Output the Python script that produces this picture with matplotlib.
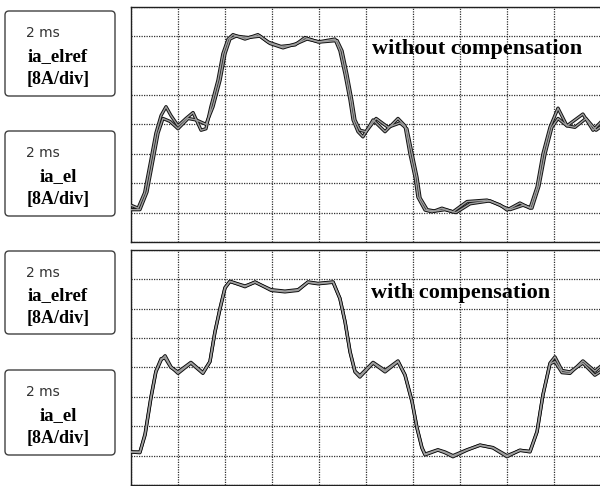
import matplotlib
matplotlib.use("Agg")
import matplotlib.pyplot as plt
from matplotlib.patches import FancyBboxPatch

# time in ms (2 ms/div), current in A (8 A/div)
t_top_el = [0.00, 0.30, 0.58, 0.85, 1.06, 1.28, 1.49, 1.70, 2.00, 2.34,
            2.64, 2.98, 3.19, 3.40, 3.70, 3.91, 4.13, 4.34, 4.85, 5.40,
            5.83, 6.38, 6.98, 7.40, 7.96, 8.68, 8.89, 9.11, 9.32, 9.45,
            9.66, 9.87, 10.30, 10.81, 11.36, 11.66, 11.87, 12.09, 12.21, 12.51,
            12.81, 13.23, 13.70, 14.30, 15.15, 15.70, 16.00, 16.55, 16.98, 17.28,
            17.53, 17.83, 18.17, 18.55, 19.23, 19.66, 19.96]
i_top_el = [-22.0, -22.8, -18.6, -9.6, -2.4, 2.4, 4.8, 2.4, -0.4, 1.6,
            3.2, -1.6, -1.2, 4.8, 12.0, 19.2, 23.2, 24.4, 23.2, 24.4,
            22.4, 21.2, 21.6, 23.6, 22.4, 23.2, 20.0, 13.6, 6.6, 1.2,
            -2.0, -3.4, 1.2, -2.0, 1.6, -0.4, -8.0, -14.4, -19.8, -23.3,
            -23.8, -22.8, -23.8, -21.0, -20.6, -21.9, -23.3, -21.4, -22.8, -17.0,
            -8.0, -0.8, 4.4, -0.4, 2.8, -1.6, 0.4]

t_top_ref = [0.00, 0.38, 0.68, 0.94, 1.15, 1.36, 1.66, 2.00, 2.43, 2.77,
             3.19, 3.49, 3.79, 4.00, 4.21, 4.47, 4.98, 5.49, 5.91, 6.47,
             7.06, 7.49, 8.04, 8.77, 8.98, 9.19, 9.40, 9.53, 9.74, 10.00,
             10.43, 10.94, 11.45, 11.74, 11.96, 12.17, 12.30, 12.60, 12.94, 13.36,
             13.83, 14.43, 15.28, 15.83, 16.13, 16.68, 17.06, 17.36, 17.62, 17.91,
             18.17, 18.55, 18.89, 19.36, 19.79, 19.96]
i_top_ref = [-23.2, -23.2, -18.4, -9.6, -2.4, 1.6, 0.8, -1.2, 1.6, 1.2,
             0.0, 4.8, 12.0, 19.2, 23.2, 24.0, 23.6, 24.0, 22.0, 20.8,
             22.0, 23.2, 22.4, 22.8, 20.0, 13.6, 6.4, 1.2, -1.6, -2.0,
             1.6, -0.8, 0.4, -1.2, -8.0, -14.4, -20.0, -23.2, -23.6, -23.2,
             -24.0, -21.6, -20.8, -22.4, -23.2, -22.0, -22.8, -16.8, -8.0, -0.8,
             1.6, -0.4, -0.8, 1.6, -1.6, -0.8]

t_bot = [0.00, 0.38, 0.60, 0.85, 1.06, 1.28, 1.45, 1.70, 2.00, 2.55,
         3.06, 3.36, 3.57, 3.79, 4.00, 4.21, 4.85, 5.28, 5.96, 6.55,
         7.11, 7.53, 7.96, 8.60, 8.89, 9.11, 9.32, 9.53, 9.74, 10.30,
         10.81, 11.36, 11.66, 11.96, 12.17, 12.38, 12.51, 13.06, 13.36, 13.70,
         14.30, 14.85, 15.40, 16.00, 16.55, 16.98, 17.28, 17.53, 17.83, 18.04,
         18.34, 18.68, 19.23, 19.74, 19.96]
i_bot_el = [-23.0, -23.0, -18.4, -8.3, -1.2, 2.0, 3.2, 0.2, -1.6, 1.2,
            -1.6, 1.6, 9.6, 16.0, 21.6, 23.5, 22.0, 23.3, 21.0, 20.6,
            21.0, 23.3, 22.9, 23.3, 18.8, 12.4, 4.2, -1.2, -2.6, 1.2,
            -1.2, 1.6, -2.1, -9.4, -16.5, -21.9, -23.8, -22.5, -23.2, -24.3,
            -22.5, -21.1, -21.9, -24.3, -22.5, -23.0, -17.5, -7.5, 1.2, 2.9,
            -0.8, -1.2, 1.2, -2.1, -1.2]
i_bot_ref = [-23.0, -23.2, -18.0, -8.0, -1.0, 2.4, 2.6, 0.0, -1.2, 1.4,
             -1.4, 1.6, 9.6, 16.2, 21.8, 23.4, 22.2, 23.2, 21.2, 20.8,
             21.2, 23.2, 22.8, 23.2, 18.8, 12.4, 4.4, -1.0, -2.2, 1.4,
             -0.8, 1.8, -2.0, -9.2, -16.4, -21.8, -23.6, -22.4, -23.0, -24.0,
             -22.4, -21.2, -21.8, -24.0, -22.6, -22.8, -17.4, -7.4, 1.0, 1.6,
             -1.4, -1.6, 1.8, -1.0, 0.2]

titles = ["without compensation", "with compensation"]
box_labels = [["2 ms", "ia_elref", "[8A/div]"], ["2 ms", "ia_el", "[8A/div]"]]

fig = plt.figure(figsize=(6, 4.86), dpi=100)
W, H = 600, 486


def add_scope(top_px, bottom_px, traces, title, title_x):
    ax = fig.add_axes([131 / W, 1 - bottom_px / H, 470 / W, (bottom_px - top_px) / H])
    for t, i in traces:
        ax.plot(t, i, color="#111111", lw=2.4, zorder=3)
    for t, i in traces:
        ax.plot(t, i, color="#a0a0a0", lw=1.0, zorder=4)
    ax.set_xlim(0, 20)
    ax.set_ylim(-32, 32)
    ax.set_xticks(range(0, 21, 2))
    ax.set_yticks(range(-32, 33, 8))
    ax.grid(True, color="#303030", lw=0.9, ls=(0, (1, 1)))
    ax.tick_params(length=0, labelbottom=False, labelleft=False)
    for s in ax.spines.values():
        s.set_color("#202020")
        s.set_linewidth(1.0)
    ax.text(title_x, 20.4, title, family="Liberation Serif", weight="bold",
            fontsize=16, ha="left", va="center", zorder=5)
    return ax


add_scope(6.7, 242, [(t_top_ref, i_top_ref), (t_top_el, i_top_el)], titles[0], 10.25)
add_scope(250, 485, [(t_bot, i_bot_ref), (t_bot, i_bot_el)], titles[1], 10.2)

# label boxes in pixel coordinates
ov = fig.add_axes([0, 0, 1, 1])
ov.set_xlim(0, W)
ov.set_ylim(H, 0)
ov.axis("off")
ov.patch.set_alpha(0)

boxes = [(10, 97, 0), (130, 217, 1), (250, 335, 0), (369, 456, 1)]
for y0, y1, k in boxes:
    ov.add_patch(FancyBboxPatch((5, y0 + 1), 110, y1 - y0 - 2,
                                boxstyle="round,pad=0,rounding_size=4",
                                fc="white", ec="#404040", lw=1.0))
    h = y1 - y0
    lab = box_labels[k]
    ov.text(26, y0 + 0.27 * h, lab[0], fontsize=10, family="DejaVu Sans",
            color="#333333", ha="left", va="center")
    ov.text(58, y0 + 0.54 * h, lab[1], fontsize=13.5, family="Liberation Serif",
            weight="bold", ha="center", va="center")
    ov.text(58, y0 + 0.80 * h, lab[2], fontsize=13, family="Liberation Serif",
            weight="bold", ha="center", va="center")

fig.savefig("out.png", dpi=100)
